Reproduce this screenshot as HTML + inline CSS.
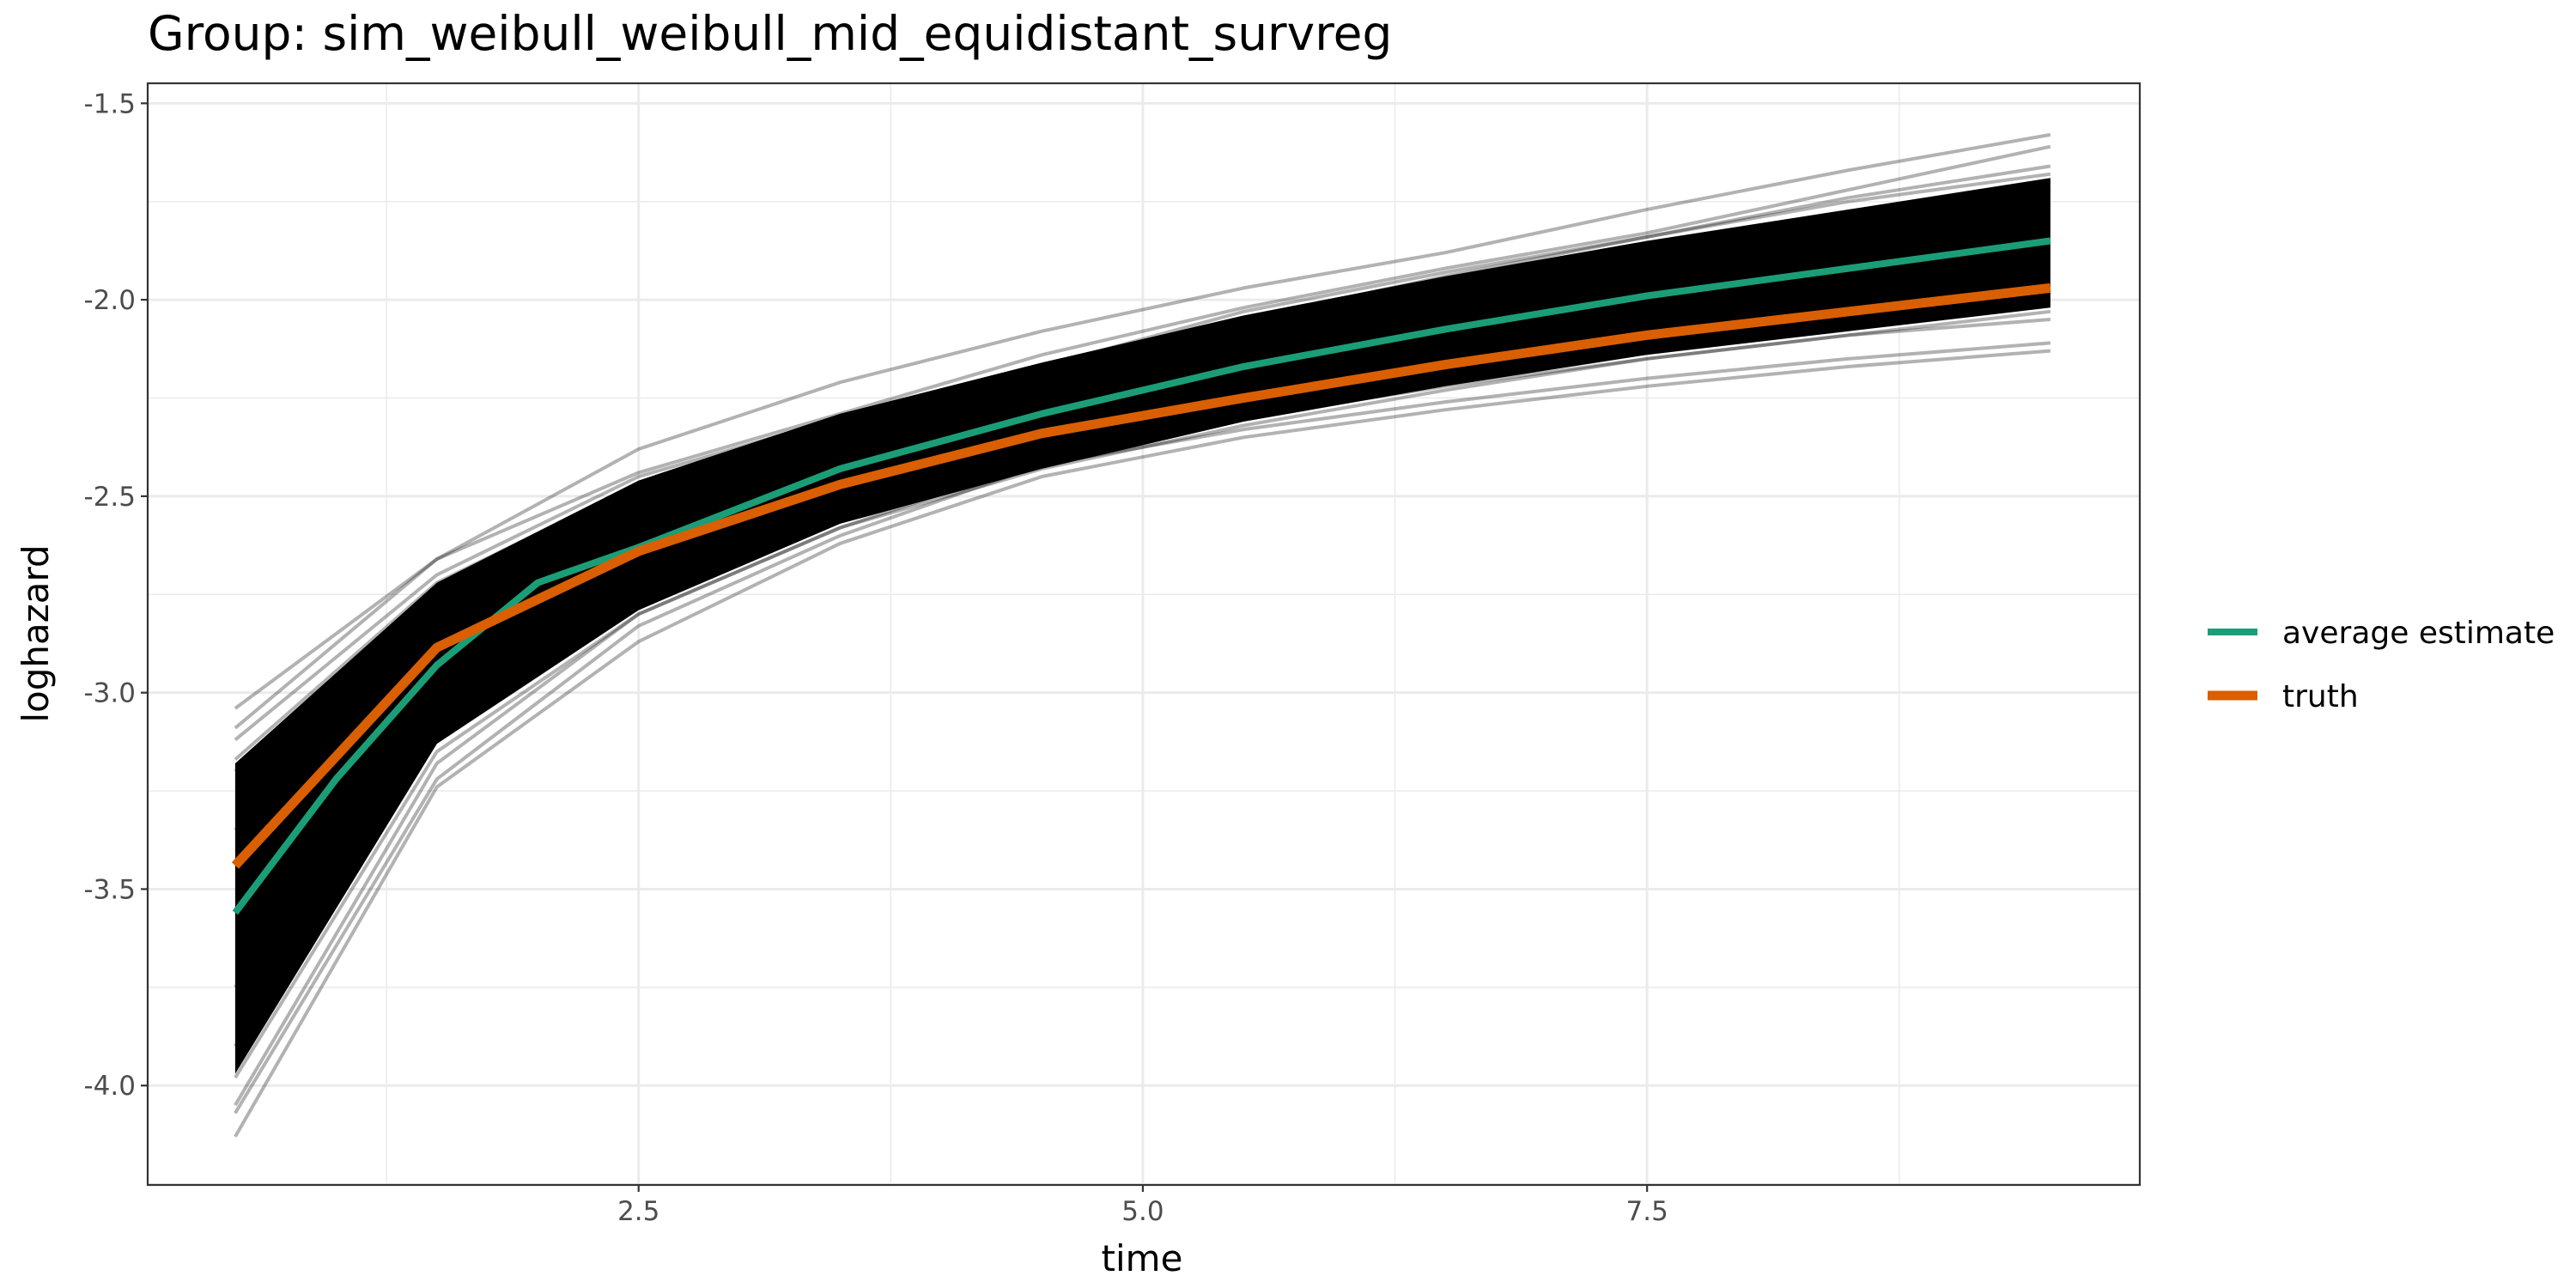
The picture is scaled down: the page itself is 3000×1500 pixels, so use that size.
<!DOCTYPE html>
<html><head><meta charset="utf-8">
<style>
html,body{margin:0;padding:0;background:#fff;}
svg{display:block;font-family:"DejaVu Sans","Liberation Sans",sans-serif;}
</style></head>
<body>
<svg id="chart" width="3000" height="1500" viewBox="0 0 3000 1500" xmlns="http://www.w3.org/2000/svg">
<rect width="3000" height="1500" fill="#fff"/>
<text x="172" y="58" font-size="55" fill="#000">Group: sim_weibull_weibull_mid_equidistant_survreg</text>
<g id="grid"></g>
<g id="sims"></g>
<g id="main"></g>
<rect x="172" y="97" width="2320" height="1283" fill="none" stroke="#333" stroke-width="2.2"/>
<g id="axes"></g>
<text x="1330" y="1480" font-size="42" text-anchor="middle" fill="#000">time</text>
<text transform="translate(56,738) rotate(-90)" font-size="42" text-anchor="middle" fill="#000">loghazard</text>
<g>
<line x1="2571" y1="736" x2="2629" y2="736" stroke="#1b9e77" stroke-width="8"/>
<text x="2658" y="749" font-size="36" fill="#000">average estimate</text>
<line x1="2571" y1="810" x2="2629" y2="810" stroke="#d95f02" stroke-width="11"/>
<text x="2658" y="823" font-size="36" fill="#000">truth</text>
</g>
</svg>
<script>
const times = [0.5,1.5,2.5,3.5,4.5,5.5,6.5,7.5,8.5,9.5];
const truthValues = [-3.44,-2.885,-2.64,-2.47,-2.34,-2.25,-2.165,-2.09,-2.03,-1.97];
const estimateTimes = [0.5,1.0,1.5,2.0,2.5,3.5,4.5,5.5,6.5,7.5,8.5,9.5];
const estimateValues = [-3.56,-3.22,-2.93,-2.72,-2.63,-2.43,-2.29,-2.17,-2.075,-1.99,-1.92,-1.85];
const bandUpper = [-3.18,-2.72,-2.46,-2.29,-2.16,-2.04,-1.94,-1.85,-1.77,-1.69];
const bandLower = [-3.97,-3.13,-2.79,-2.57,-2.43,-2.31,-2.22,-2.14,-2.08,-2.02];
const simLines = [
 [-3.04,-2.66,-2.38,-2.21,-2.08,-1.97,-1.88,-1.77,-1.67,-1.58],
 [-3.09,-2.66,-2.44,-2.29,-2.14,-2.02,-1.92,-1.83,-1.72,-1.61],
 [-3.12,-2.70,-2.45,-2.30,-2.17,-2.05,-1.94,-1.84,-1.74,-1.66],
 [-3.17,-2.72,-2.47,-2.30,-2.17,-2.03,-1.93,-1.84,-1.75,-1.68],
 [-3.20,-2.75,-2.48,-2.32,-2.19,-2.07,-1.97,-1.88,-1.80,-1.72],
 [-4.13,-3.24,-2.87,-2.62,-2.45,-2.35,-2.28,-2.22,-2.17,-2.13],
 [-4.07,-3.22,-2.83,-2.60,-2.42,-2.33,-2.26,-2.20,-2.15,-2.11],
 [-4.05,-3.18,-2.80,-2.58,-2.41,-2.30,-2.22,-2.15,-2.09,-2.05],
 [-3.98,-3.15,-2.80,-2.58,-2.43,-2.32,-2.23,-2.15,-2.09,-2.03],
 [-3.90,-3.10,-2.77,-2.55,-2.41,-2.29,-2.20,-2.12,-2.06,-2.00],
 [-3.75,-3.05,-2.73,-2.52,-2.38,-2.26,-2.17,-2.09,-2.02,-1.96],
 [-3.35,-2.80,-2.55,-2.37,-2.24,-2.12,-2.02,-1.93,-1.86,-1.79]
];
const yTicks = [-1.5,-2.0,-2.5,-3.0,-3.5,-4.0];
const yTickLabels = ["-1.5","-2.0","-2.5","-3.0","-3.5","-4.0"];
const yMinor = [-1.75,-2.25,-2.75,-3.25,-3.75,-4.25];
const xTicks = [2.5,5.0,7.5];
const xTickLabels = ["2.5","5.0","7.5"];
const xMinor = [1.25,3.75,6.25,8.75];

const NS="http://www.w3.org/2000/svg";
const L=172,R=2492,T=97,B=1380;
const xMin=0.066,xMax=9.943,yMin=-4.253,yMax=-1.449;
function sx(v){return L+(v-xMin)/(xMax-xMin)*(R-L);}
function sy(v){return B-(v-yMin)/(yMax-yMin)*(B-T);}
function mk(tag,attrs,parent){const e=document.createElementNS(NS,tag);for(const k in attrs)e.setAttribute(k,attrs[k]);parent.appendChild(e);return e;}
function pts(xs,ys){return xs.map((x,i)=>sx(x).toFixed(1)+","+sy(ys[i]).toFixed(1)).join(" ");}

const grid=document.getElementById('grid');
yMinor.forEach(v=>{const y=sy(v);if(y<T||y>B)return;const e=mk('line',{x1:L,x2:R,y1:y,y2:y,stroke:'#ebebeb','stroke-width':1.5},grid);

});
xMinor.forEach(v=>{const x=sx(v);const e=mk('line',{x1:x,x2:x,y1:T,y2:B,stroke:'#ebebeb','stroke-width':1.5},grid);

});
yTicks.forEach(v=>{const y=sy(v);const e=mk('line',{x1:L,x2:R,y1:y,y2:y,stroke:'#ebebeb','stroke-width':3},grid);

});
xTicks.forEach(v=>{const x=sx(v);const e=mk('line',{x1:x,x2:x,y1:T,y2:B,stroke:'#ebebeb','stroke-width':3},grid);

});

const sims=document.getElementById('sims');
const band=mk('polygon',{points:pts(times,bandUpper)+" "+pts(times.slice().reverse(),bandLower.slice().reverse()),fill:'#000'},sims);


simLines.forEach(s=>{const e=mk('polyline',{points:pts(times,s),fill:'none',stroke:'#000','stroke-opacity':0.3,'stroke-width':4,'stroke-linejoin':'round'},sims);

});

const main=document.getElementById('main');
const est=mk('polyline',{points:pts(estimateTimes,estimateValues),fill:'none',stroke:'#1b9e77','stroke-width':8,'stroke-linejoin':'round'},main);


const tr=mk('polyline',{points:pts(times,truthValues),fill:'none',stroke:'#d95f02','stroke-width':11,'stroke-linejoin':'round'},main);



const axes=document.getElementById('axes');
yTicks.forEach((v,i)=>{const y=sy(v);
const t=mk('line',{x1:L-8,x2:L,y1:y,y2:y,stroke:'#333','stroke-width':2.2},axes);


const tx=mk('text',{x:L-14,y:y+11,'font-size':31,'text-anchor':'end',fill:'#4d4d4d'},axes);tx.textContent=yTickLabels[i];

});
xTicks.forEach((v,i)=>{const x=sx(v);
const t=mk('line',{x1:x,x2:x,y1:B,y2:B+8,stroke:'#333','stroke-width':2.2},axes);


const tx=mk('text',{x:x,y:B+41,'font-size':31,'text-anchor':'middle',fill:'#4d4d4d'},axes);tx.textContent=xTickLabels[i];

});
</script>
</body></html>
